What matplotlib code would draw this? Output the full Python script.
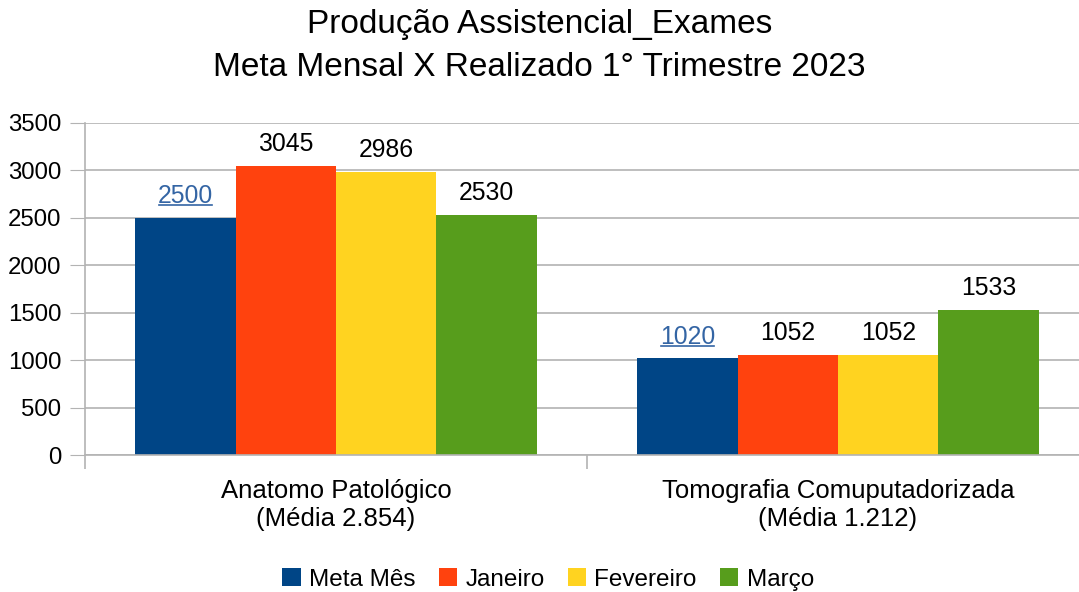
import numpy as np
import matplotlib
matplotlib.use("Agg")
import matplotlib.pyplot as plt
from matplotlib.lines import Line2D

plt.rcParams['font.family'] = ['Liberation Sans', 'DejaVu Sans']

# data
categories = ["Anatomo Patológico\n(Média 2.854)", "Tomografia Comuputadorizada\n(Média 1.212)"]
series_names = ["Meta Mês", "Janeiro", "Fevereiro", "Março"]
meta = [2500, 1020]
janeiro = [3045, 1052]
fevereiro = [2986, 1052]
marco = [2530, 1533]
colors = ["#004586", "#ff420e", "#ffd320", "#579d1c"]

fig = plt.figure(figsize=(10.79, 5.92), dpi=100)
ax = fig.add_axes([85 / 1079, 137 / 592, 1004 / 1079, 332 / 592])

x = np.arange(len(categories)) + 0.5
w = 0.2
values = [meta, janeiro, fevereiro, marco]
labels_to_underline = []
for i, (vals, name, c) in enumerate(zip(values, series_names, colors)):
    xs = x - 0.3 + i * w
    ax.bar(xs, vals, width=w, color=c, label=name, zorder=2)
    for xi, v in zip(xs, vals):
        t = ax.annotate(str(v), (xi, v), xytext=(0, 7), textcoords="offset points",
                        ha="center", va="bottom", fontsize=17.8,
                        color="#3465a4" if i == 0 else "black")
        if i == 0:
            labels_to_underline.append(t)

ax.set_xlim(0, 2)
ax.set_ylim(0, 3500)
ax.set_yticks(np.arange(0, 3501, 500))
ax.tick_params(axis="y", labelsize=17.3, length=11, color="#b3b3b3", pad=6)
ax.yaxis.grid(True, color="#b3b3b3", linewidth=1.2, zorder=0)
ax.set_axisbelow(True)

ax.set_xticks(x)
ax.set_xticklabels(categories, fontsize=18.5, linespacing=1.25)
ax.tick_params(axis="x", length=0, pad=17)
ax.set_xticks([0, 1, 2], minor=True)
ax.tick_params(axis="x", which="minor", length=10, color="#b3b3b3", width=1.2)

for s in ["top", "right"]:
    ax.spines[s].set_visible(False)
ax.spines["left"].set_color("#b3b3b3")
ax.spines["bottom"].set_color("#b3b3b3")
ax.spines["left"].set_linewidth(1.2)
ax.spines["bottom"].set_linewidth(1.2)

fig.suptitle("Produção Assistencial_Exames\nMeta Mensal X Realizado 1° Trimestre 2023",
             fontsize=24, y=0.985, linespacing=1.5)

fig.legend(loc="lower center", bbox_to_anchor=(0.508, -0.035), ncol=4, frameon=False,
           fontsize=17.5, handlelength=0.75, handleheight=0.75, handletextpad=0.35,
           columnspacing=0.95)

# underline the goal labels
fig.canvas.draw()
renderer = fig.canvas.get_renderer()
for t in labels_to_underline:
    bb = t.get_window_extent(renderer)
    y = bb.y0 + 3
    fig.add_artist(Line2D([bb.x0 + 1, bb.x1 - 1], [y, y], transform=None,
                          color="#3465a4", linewidth=1.2))

fig.savefig("out.png", dpi=100)
